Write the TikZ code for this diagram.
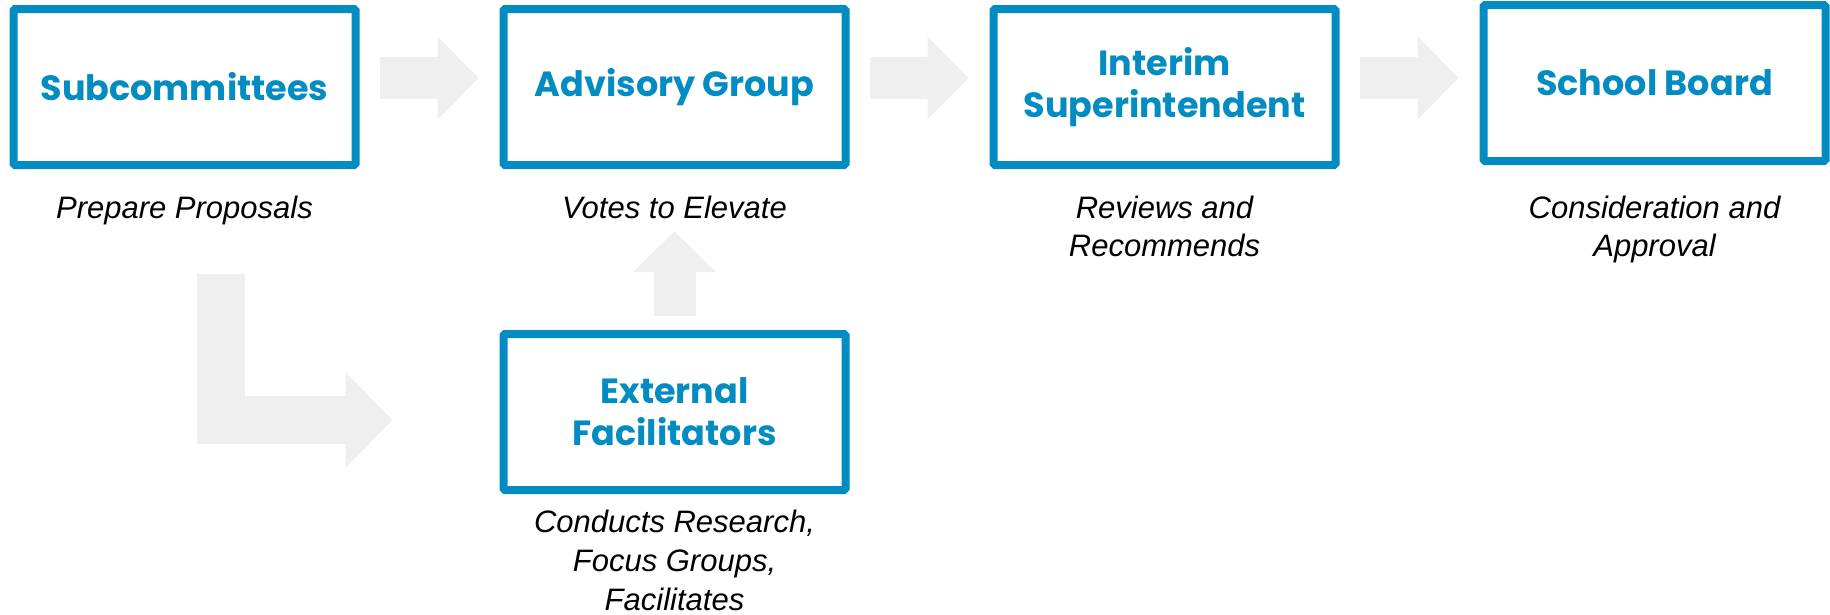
\documentclass[tikz,border=0pt]{standalone}
\usepackage{fontspec}
\setmainfont{Liberation Sans}
\newfontfamily\headfont{Poppins}
\usetikzlibrary{positioning}
\usetikzlibrary{arrows.meta}
\definecolor{boxblue}{RGB}{3,140,193}
\definecolor{flowgray}{RGB}{239,239,239}
\tikzset{
    node distance=140pt,
    stage/.style={
        draw=boxblue,
        line width=8pt,
        rounded corners=1.5pt,
        minimum width=342pt,
        minimum height=156pt,
        align=center,
        text=boxblue,
        font=\headfont\bfseries\fontsize{35}{42}\selectfont
    },
    note/.style={
        align=center,
        inner sep=0pt,
        font=\itshape\fontsize{31}{38}\selectfont
    },
    flow/.style={
        draw=flowgray,
        line width=42pt,
        -{Triangle[length=41pt,width=83pt,line width=0pt]}
    },
    bigflow/.style={
        flow,
        line width=48pt,
        -{Triangle[length=47pt,width=95pt,line width=0pt]}
    }
}

\begin{document}
\begin{tikzpicture}[x=1pt,y=-1pt]
    \useasboundingbox (0,0) rectangle (1830,614);

    \node[stage] (sub) at (184.5,87) {Subcommittees};
    \node[stage, right=of sub] (adv) {Advisory Group};
    \node[stage, right=of adv] (sup) {Interim\\Superintendent};
    \node[stage, right=of sup, yshift=4pt] (board) {School Board};
    \node[stage, below=161pt of adv] (ext) {External\\Facilitators};

    \node[note, below=27pt of sub] (prep) {Prepare Proposals};
    \node[note, below=27pt of adv] (votes) {Votes to Elevate};
    \node[note, below=27pt of sup] (rev) {Reviews and\\Recommends};
    \node[note, below=31pt of board] (appr) {Consideration and\\Approval};
    \node[note, below=16pt of ext, font=\itshape\fontsize{31}{39}\selectfont] (research) {Conducts Research,\\Focus Groups,\\Facilitates};

    \draw[flow, shorten <=20pt, shorten >=21pt] ([yshift=9pt]sub.east) -- ([yshift=9pt]adv.west);
    \draw[flow, shorten <=20pt, shorten >=21pt] ([yshift=9pt]adv.east) -- ([yshift=9pt]sup.west);
    \draw[flow, shorten <=20pt, shorten >=21pt] ([yshift=9pt]sup.east) -- ([yshift=5pt]board.west);
    \draw[flow, shorten <=14pt, shorten >=12pt] (ext) -- (votes);
    \draw[bigflow, shorten <=105pt, shorten >=107pt] ([xshift=36pt]sub.south) |- ([yshift=-8pt]ext.west);
\end{tikzpicture}
\end{document}
